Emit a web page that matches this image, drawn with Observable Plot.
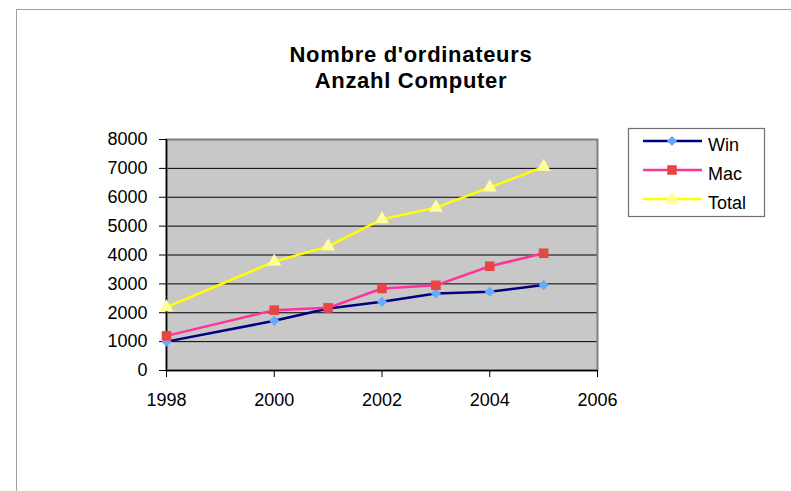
<!DOCTYPE html>
<html><head><meta charset="utf-8">
<script src="https://cdn.jsdelivr.net/npm/d3@7"></script>
<script src="https://cdn.jsdelivr.net/npm/@observablehq/plot@0.6"></script>
<style>
html,body{margin:0;padding:0;background:#fff;overflow:hidden}
#wrap{position:relative;width:791px;height:491px;font-family:"Liberation Sans",Arial,sans-serif;overflow:hidden}
#border{position:absolute;left:16px;top:9px;width:820px;height:520px;border:1px solid #a0a0a0;box-sizing:border-box}
#title{position:absolute;left:0;width:822px;top:41.5px;text-align:center;font-weight:bold;font-size:22px;line-height:26.5px;color:#000;letter-spacing:0.7px}
#chart{position:absolute;left:0;top:0}
#legend{position:absolute;left:0;top:0}
</style>
</head><body>
<div id="wrap">
  <div id="border"></div>
  <div id="title">Nombre d'ordinateurs<br>Anzahl Computer</div>
  <div id="chart"></div>
  <svg id="legend" width="791" height="491"></svg>
</div>
<script>
// ---- data ----
const years = [1998, 2000, 2001, 2002, 2003, 2004, 2005];
const win   = [1000, 1720, 2150, 2380, 2670, 2730, 2960];
const mac   = [1200, 2090, 2170, 2840, 2950, 3610, 4060];
const total = [2190, 3770, 4300, 5240, 5640, 6340, 7050];
const seriesNames = ["Win", "Mac", "Total"];
const xTicks = [1998, 2000, 2002, 2004, 2006];
const yTicks = [0, 1000, 2000, 3000, 4000, 5000, 6000, 7000, 8000];

// ---- styles ----
const lineColors = ["#000080", "#ff3399", "#ffff00"];
const markerColors = ["#66aaff", "#e84545", "#ffff99"];
const symbols = ["diamond2", "square", "triangle"];
const markerR = [4.6, 5.4, 5.2];

const values = [win, mac, total];
const rows = [];
seriesNames.forEach((s, i) => years.forEach((y, j) => rows.push({series: s, year: y, value: values[i][j]})));

const seriesMarks = [];
seriesNames.forEach((s, i) => {
  const data = rows.filter(d => d.series === s);
  seriesMarks.push(Plot.line(data, {x: "year", y: "value", stroke: lineColors[i], strokeWidth: 2.5}));
});
seriesNames.forEach((s, i) => {
  const data = rows.filter(d => d.series === s);
  seriesMarks.push(Plot.dot(data, {x: "year", y: "value", symbol: () => symbols[i], fill: markerColors[i], stroke: "none", r: markerR[i]}));
});

const chart = Plot.plot({
  width: 791, height: 491,
  marginLeft: 166, marginRight: 194, marginTop: 139, marginBottom: 121,
  style: {fontFamily: "'Liberation Sans', Arial, sans-serif", fontSize: "18px", color: "#000", background: "transparent", overflow: "visible"},
  x: {domain: [1998, 2006]},
  y: {domain: [0, 8000]},
  marks: [
    Plot.frame({fill: "#c8c8c8", stroke: "none"}),
    Plot.ruleY(yTicks.filter(v => v > 0 && v < 8000), {stroke: "#000", strokeWidth: 1}),
    Plot.frame({stroke: "#808080", strokeWidth: 2}),
    Plot.ruleX([1998], {stroke: "#000", strokeWidth: 1.5}),
    Plot.ruleY([0], {stroke: "#000", strokeWidth: 1.5}),
    Plot.axisY({ticks: yTicks, tickSize: 7, tickPadding: 12, label: null, fontSize: 18, tickFormat: d => String(d)}),
    Plot.axisX({ticks: xTicks, tickSize: 7, tickPadding: 16, label: null, fontSize: 18, tickFormat: d => String(d)}),
    ...seriesMarks
  ]
});
document.getElementById("chart").appendChild(chart);

// ---- legend ----
const lg = d3.select("#legend");
lg.append("rect").attr("x", 628.5).attr("y", 128.5).attr("width", 136).attr("height", 88)
  .attr("fill", "#fff").attr("stroke", "#707070").attr("stroke-width", 1.2);
const symMap = {diamond2: d3.symbolDiamond2, square: d3.symbolSquare, triangle: d3.symbolTriangle};
seriesNames.forEach((s, i) => {
  const yy = 141 + i * 29;
  lg.append("line").attr("x1", 643).attr("x2", 702).attr("y1", yy).attr("y2", yy)
    .attr("stroke", lineColors[i]).attr("stroke-width", 2.5);
  lg.append("path").attr("transform", `translate(672,${yy})`)
    .attr("d", d3.symbol(symMap[symbols[i]], markerR[i] * markerR[i] * Math.PI)())
    .attr("fill", markerColors[i]);
  lg.append("text").attr("x", 708).attr("y", yy + 9.5).text(s)
    .attr("font-family", "'Liberation Sans', Arial, sans-serif").attr("font-size", 18).attr("fill", "#000");
});
</script>
</body></html>
